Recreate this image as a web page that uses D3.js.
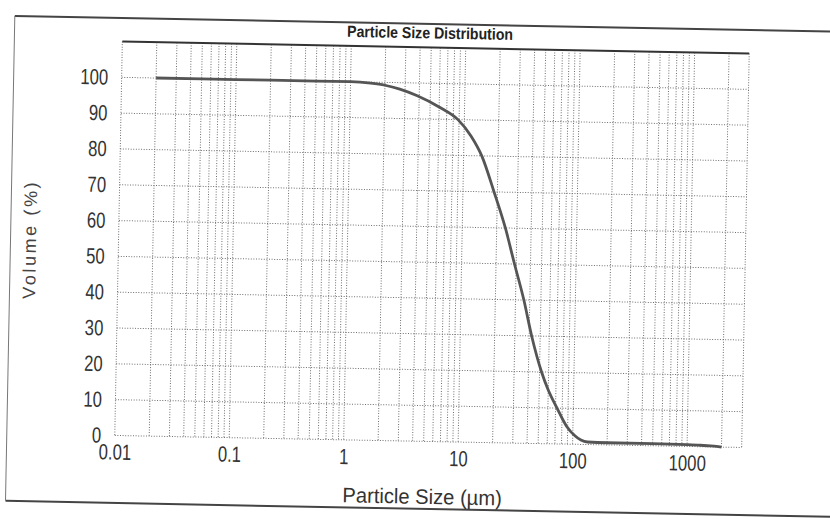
<!DOCTYPE html>
<html>
<head>
<meta charset="utf-8">
<script src="https://cdn.jsdelivr.net/npm/d3@7"></script>
<style>
  body { margin: 0; background: #fff; }
  svg { display: block; }
</style>
</head>
<body>
<svg id="chart" width="830" height="519"></svg>
<script>
// du lieu doc tu hinh (kich thuoc hat, % the tich)
const sizeUm = [0.02, 0.05, 0.1, 0.2, 0.5, 1, 1.5, 2, 2.7, 3.8, 6.1, 8.8, 11.5, 14.4, 18.7, 23.8, 29, 35.5, 42.1, 52.1, 60, 72.1, 87.9, 105, 118, 135, 200, 500, 1000, 1300, 1500, 1800, 2000];
const volumePct = [100, 100, 100, 100, 100, 100, 99.7, 99.2, 98.2, 96.5, 93.3, 90, 85.5, 80, 70, 60, 50, 40, 30, 20, 15, 10, 5, 2.3, 1.2, 0.7, 0.6, 0.6, 0.5, 0.4, 0.3, 0.2, 0];

const xTickValues = [0.01, 0.1, 1, 10, 100, 1000];
const xTickLabels = ["0.01", "0.1", "1", "10", "100", "1000"];
const yTickValues = [0, 10, 20, 30, 40, 50, 60, 70, 80, 90, 100];

const sans = "'Liberation Sans', Arial, sans-serif";
const ink = "#333";
const squeeze = 0.76; // chu hep nhu Arial Narrow

const svg = d3.select("#chart");
// ban scan hoi nghieng
const root = svg.append("g").attr("transform", "rotate(1.1, 432, 244.5)");

const x = d3.scaleLog().domain([0.01, 3000]).range([118.5, 745.5]);
const y = d3.scaleLinear().domain([0, 110]).range([441.5, 47.5]);

// khung ngoai
root.append("line").attr("x1", 10.5).attr("x2", 840).attr("y1", 24).attr("y2", 24)
    .attr("stroke", "#444").attr("stroke-width", 2);
root.append("line").attr("x1", 10.5).attr("x2", 840).attr("y1", 509).attr("y2", 509)
    .attr("stroke", "#444").attr("stroke-width", 2);
root.append("line").attr("x1", 10.5).attr("x2", 10.5).attr("y1", 24).attr("y2", 509)
    .attr("stroke", "#777").attr("stroke-width", 1);

// luoi doc (log)
const minor = [];
for (let e = -2; e <= 3; e++) {
    for (let k = 1; k <= 9; k++) {
        const v = k * Math.pow(10, e);
        if (v <= 3000) minor.push(v);
    }
}
root.append("g").selectAll("line")
    .data(minor)
    .enter()
    .append("line")
    .attr("x1", d => x(d)).attr("x2", d => x(d))
    .attr("y1", y(110)).attr("y2", y(0))
    .attr("stroke", "#6f6f6f")
    .attr("stroke-width", 1)
    .attr("stroke-dasharray", "1,1.6");

// luoi ngang
root.append("g").selectAll("line")
    .data(yTickValues)
    .enter()
    .append("line")
    .attr("x1", x(0.01)).attr("x2", x(3000))
    .attr("y1", d => y(d)).attr("y2", d => y(d))
    .attr("stroke", "#6f6f6f")
    .attr("stroke-width", 1)
    .attr("stroke-dasharray", "1,1.6");

// vien tren
root.append("line")
    .attr("x1", x(0.01)).attr("x2", x(3000))
    .attr("y1", y(110)).attr("y2", y(110))
    .attr("stroke", "#333").attr("stroke-width", 2);

// truc
const yAxis = root.append("g")
    .attr("transform", `translate(${x(0.01)},0)`)
    .call(d3.axisLeft(y).tickValues(yTickValues).tickSize(0).tickPadding(13.5));
const xAxis = root.append("g")
    .attr("transform", `translate(0,${y(0)})`)
    .call(d3.axisBottom(x).tickValues(xTickValues).tickFormat((d, i) => xTickLabels[i]).tickSize(0).tickPadding(8.5));
[yAxis, xAxis].forEach(a => {
    a.select(".domain").remove();
    a.selectAll("text")
        .attr("fill", ink)
        .attr("x", function() { return (+d3.select(this).attr("x") || 0) / squeeze; })
        .attr("transform", `scale(${squeeze},1)`)
        .style("font-family", sans)
        .style("font-size", "22px");
});

// duong cong
const line = d3.line()
    .x((d, i) => x(sizeUm[i]))
    .y(d => y(d))
    .curve(d3.curveMonotoneX);
root.append("path")
    .datum(volumePct)
    .attr("d", line)
    .attr("fill", "none")
    .attr("stroke", "#555")
    .attr("stroke-width", 2.8)
    .attr("stroke-linejoin", "round");

// tieu de
root.append("text")
    .attr("transform", "translate(426,38.5) scale(0.88,1)")
    .attr("text-anchor", "middle")
    .attr("fill", "#222")
    .style("font-family", sans)
    .style("font-weight", "bold")
    .style("font-size", "16px")
    .text("Particle Size Distribution");

root.append("text")
    .attr("transform", "translate(427,504) scale(0.96,1)")
    .attr("text-anchor", "middle")
    .attr("fill", ink)
    .style("font-family", sans)
    .style("font-size", "21px")
    .text("Particle Size (µm)");

root.append("text")
    .attr("transform", "translate(36,247) rotate(-90)")
    .attr("text-anchor", "middle")
    .attr("fill", "#444")
    .style("font-family", sans)
    .style("font-size", "18px")
    .style("letter-spacing", "2.6px")
    .text("Volume (%)");
</script>
</body>
</html>
